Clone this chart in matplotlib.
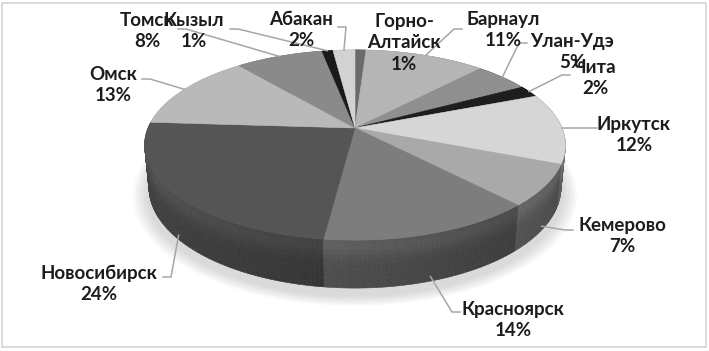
import numpy as np
import matplotlib as mpl
mpl.use('Agg')
import matplotlib.pyplot as plt
from matplotlib.patches import Polygon, Rectangle
from matplotlib.colors import to_rgb

# data, clockwise from 12 o'clock
cities = ['Горно-\nАлтайск', 'Барнаул', 'Улан-Удэ', 'Чита', 'Иркутск', 'Кемерово',
          'Красноярск', 'Новосибирск', 'Омск', 'Томск', 'Кызыл', 'Абакан']
shares = [1, 11, 5, 2, 12, 7, 14, 24, 13, 8, 1, 2]
grays = ['#6b6b6b', '#b5b5b5', '#8f8f8f', '#1e1e1e', '#d6d6d6', '#a9a9a9',
         '#7d7d7d', '#555555', '#b9b9b9', '#8a8a8a', '#1a1a1a', '#d2d2d2']

# label block centres and leader start points (pixels)
label_xy = [(404, 43), (503, 30), (572, 52), (595, 78), (634, 135), (622, 236),
            (513, 320), (99, 284), (113, 85), (147, 31), (194, 31), (301, 30)]
leader_start = [None, (462, 29), (527, 43), (570, 75), (597, 128), (573, 230),
                (460, 312), (163, 277), (142, 79), (178, 29), (230, 29), (338, 27)]

plt.rcParams['font.family'] = ['Lato', 'Open Sans', 'DejaVu Sans']

# fake excel 3d pie: perspective view of a flat cylinder
cx, cy, R = 355, 128, 207
elev = np.radians(26.4)
D = 5.0
thick = 0.23


def proj(X, Y, Z):
    yv = Z*np.cos(elev) + Y*np.sin(elev)
    dv = Y*np.cos(elev) - Z*np.sin(elev)
    s = D/(D+dv)
    return cx + R*X*s, cy - R*yv*s


def shade(c, f):
    return tuple(np.clip(np.array(to_rgb(c))*f, 0, 1))


fig = plt.figure(figsize=(7.09, 3.51), dpi=100)
ax = fig.add_axes([0, 0, 1, 1])
ax.set_xlim(0, 709)
ax.set_ylim(351, 0)
ax.axis('off')

ax.add_patch(Rectangle((2, 3), 704, 344, fill=False, ec='#d4d4d4', lw=1.2))

# soft shadow under the pie
tt = np.linspace(0, 2*np.pi, 300)
for k in range(6):
    r = 1.0 + 0.012*(k+1)
    px, py = proj(r*np.cos(tt), r*np.sin(tt) - 0.02, -thick-0.02)
    ax.fill(px, py, color='#808080', alpha=0.05, lw=0, zorder=1)

frac = np.array(shares)/np.sum(shares)
cum = np.concatenate([[0], np.cumsum(frac)])
th0 = np.pi/2 - 2*np.pi*cum[:-1]
th1 = np.pi/2 - 2*np.pi*cum[1:]

# side segments, back to front
segs = []
for i in range(len(shares)):
    n = max(2, int(abs(th1[i]-th0[i])/np.radians(1.0)))
    a = np.linspace(th0[i], th1[i], n+1)
    for j in range(n):
        segs.append((np.sin(0.5*(a[j]+a[j+1])), i, a[j], a[j+1]))
segs.sort(key=lambda s: -s[0])
zb = np.linspace(0, 1, 11)
gb = 0.86 + 0.2*np.exp(-((0.5*(zb[:-1]+zb[1:]) - 0.12)/0.25)**2)
for _, i, a0, a1 in segs:
    xm = np.cos(0.5*(a0+a1))
    f = 0.7 - 0.2*xm
    for k in range(len(gb)):
        z0, z1 = zb[k], zb[k+1]
        p1 = proj(np.cos(a0), np.sin(a0), -z0*thick)
        p2 = proj(np.cos(a1), np.sin(a1), -z0*thick)
        p3 = proj(np.cos(a1), np.sin(a1), -z1*thick)
        p4 = proj(np.cos(a0), np.sin(a0), -z1*thick)
        col = shade(grays[i], f*gb[k])
        ax.add_patch(Polygon([p1, p2, p3, p4], closed=True, fc=col, ec=col,
                             lw=0.4, zorder=2))

# top faces
for i in range(len(shares)):
    a = np.linspace(th0[i], th1[i], max(3, int(abs(th1[i]-th0[i])/np.radians(0.5))))
    px, py = proj(np.cos(a), np.sin(a), 0*a)
    pts = [proj(0, 0, 0)] + list(zip(px, py))
    ax.add_patch(Polygon(pts, closed=True, fc=grays[i], ec=grays[i], lw=0.4, zorder=3))

# labels and leader lines
for i in range(len(shares)):
    tx, ty = label_xy[i]
    ax.text(tx, ty, f'{cities[i]}\n{shares[i]}%', ha='center', va='center',
            fontsize=13.5, fontweight='bold', color='#1c1c1c', linespacing=1.3,
            zorder=6)
    if leader_start[i] is None:
        continue
    mid = 0.5*(th0[i]+th1[i])
    X, Y = np.cos(mid), np.sin(mid)
    Z = -0.9*thick if Y < 0 else 0.0
    axp, ayp = proj(X, Y, Z)
    sx, sy = leader_start[i]
    ex = sx + (8 if axp > sx else -8)
    ax.plot([sx, ex, axp], [sy, sy, ayp], color='#a6a6a6', lw=1.1, zorder=5)

fig.savefig('out.png', dpi=100)
